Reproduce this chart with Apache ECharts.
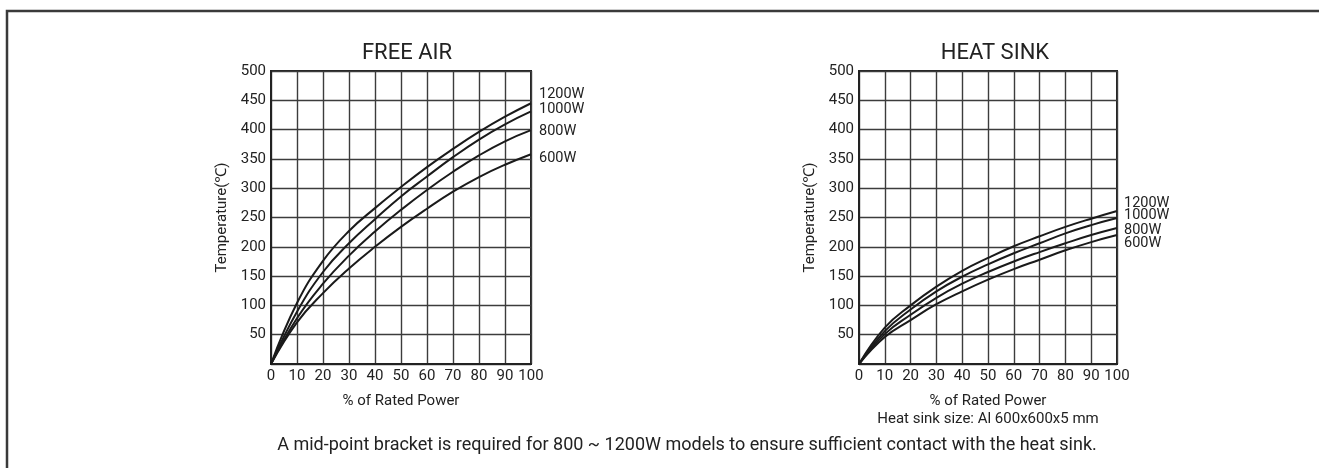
<!DOCTYPE html>
<html>
<head>
<meta charset="utf-8">
<script src="https://cdn.jsdelivr.net/npm/echarts@6/dist/echarts.min.js"></script>
<style>
html,body{margin:0;padding:0;background:#fff;}
#c{width:1319px;height:468px;}
</style>
</head>
<body>
<div id="c"></div>
<script>
// ---- data ----
const xPoints = [0, 10, 20, 30, 40, 50, 60, 70, 80, 90, 100];
const seriesNames = ['1200W', '1000W', '800W', '600W'];
const freeAir1200 = [0, 104, 176, 227, 266, 302, 336, 367, 396, 422, 445];
const freeAir1000 = [0, 89, 157, 206, 247, 286, 320, 353, 383, 409, 431];
const freeAir800  = [0, 78, 137, 185, 226, 263, 297, 328, 356, 380, 399];
const freeAir600  = [0, 71, 121, 163, 200, 234, 265, 294, 319, 340, 358];
const heatSink1200 = [0, 62, 100, 132, 159, 181, 201, 218, 234, 248, 261];
const heatSink1000 = [0, 56, 93, 124, 149, 170, 189, 206, 223, 237, 249];
const heatSink800  = [0, 51, 84, 113, 137, 157, 175, 191, 206, 220, 232];
const heatSink600  = [0, 46, 75, 102, 124, 144, 162, 178, 194, 208, 220];
const titles = ['FREE AIR', 'HEAT SINK'];
const xAxisNames = ['% of Rated Power', '% of Rated Power\nHeat sink size: Al 600x600x5 mm'];
const yAxisName = 'Temperature(℃)';
const note = 'A mid-point bracket is required for 800 ~ 1200W models to ensure sufficient contact with the heat sink.';

// ---- chart ----
const FONT = 'Roboto, "Noto Sans", sans-serif';
const ink = '#222';
const gridLine = '#3c3c3c';
const pair = (ys) => xPoints.map((x, i) => [x, ys[i]]);
const freeAir = [freeAir1200, freeAir1000, freeAir800, freeAir600];
const heatSink = [heatSink1200, heatSink1000, heatSink800, heatSink600];
const faOffsets = [[6, -9], [6, -2], [6, 1], [6, 4]];
const hsOffsets = [[5, -8], [5, -3], [5, 2], [5, 8]];

function xAxisFor(i) {
  return {
    type: 'value', gridIndex: i, min: 0, max: 100, interval: 10,
    name: xAxisNames[i], nameLocation: 'middle', nameGap: 28,
    nameTextStyle: { fontFamily: FONT, fontSize: 15, color: ink, lineHeight: 18 },
    axisLine: { show: true, lineStyle: { color: '#222', width: 2 } },
    axisTick: { show: false },
    axisLabel: { fontFamily: FONT, fontSize: 15, color: ink, margin: 5 },
    splitLine: { show: true, lineStyle: { color: gridLine, width: 1.4 } }
  };
}
function yAxisFor(i) {
  return {
    type: 'value', gridIndex: i, min: 0, max: 500, interval: 50,
    name: yAxisName, nameLocation: 'middle', nameGap: 41,
    nameTextStyle: { fontFamily: FONT, fontSize: 15, color: ink },
    axisLine: { show: true, lineStyle: { color: '#222', width: 2 } },
    axisTick: { show: false },
    axisLabel: { fontFamily: FONT, fontSize: 15, color: ink, margin: 5,
      formatter: v => (v === 0 ? '' : String(v)) },
    splitLine: { show: true, lineStyle: { color: gridLine, width: 1.4 } }
  };
}
function seriesFor(gridIdx, sets, offsets) {
  return sets.map((ys, k) => ({
    type: 'line', xAxisIndex: gridIdx, yAxisIndex: gridIdx,
    data: pair(ys), smooth: 0.45,
    showSymbol: false, symbol: 'none', silent: true,
    lineStyle: { color: '#1a1a1a', width: 2 },
    endLabel: { show: true, formatter: seriesNames[k], fontFamily: FONT,
      fontSize: 14.5, color: ink, offset: offsets[k], distance: 2 }
  }));
}

const chart = echarts.init(document.getElementById('c'), null, { renderer: 'canvas' });
chart.setOption({
  backgroundColor: '#fff',
  animation: false,
  title: [
    { text: titles[0], left: 402, top: 37, textAlign: 'center',
      textStyle: { fontFamily: FONT, fontSize: 22, fontWeight: 'normal', color: ink } },
    { text: titles[1], left: 990, top: 37, textAlign: 'center',
      textStyle: { fontFamily: FONT, fontSize: 22, fontWeight: 'normal', color: ink } },
    { text: note, left: 682, top: 431, textAlign: 'center',
      textStyle: { fontFamily: FONT, fontSize: 18, fontWeight: 'normal', color: ink } }
  ],
  grid: [
    { left: 271, right: 788, top: 71, bottom: 104, show: true, borderColor: '#222', borderWidth: 2, backgroundColor: 'transparent' },
    { left: 859, right: 202, top: 71, bottom: 104, show: true, borderColor: '#222', borderWidth: 2, backgroundColor: 'transparent' }
  ],
  xAxis: [xAxisFor(0), xAxisFor(1)],
  yAxis: [yAxisFor(0), yAxisFor(1)],
  series: [].concat(seriesFor(0, freeAir, faOffsets), seriesFor(1, heatSink, hsOffsets)),
  graphic: [
    { type: 'polyline', silent: true,
      shape: { points: [[7, 470], [7, 11], [1321, 11]] },
      style: { stroke: '#3a3a3a', lineWidth: 2.5, fill: null } }
  ]
});
</script>
</body>
</html>
